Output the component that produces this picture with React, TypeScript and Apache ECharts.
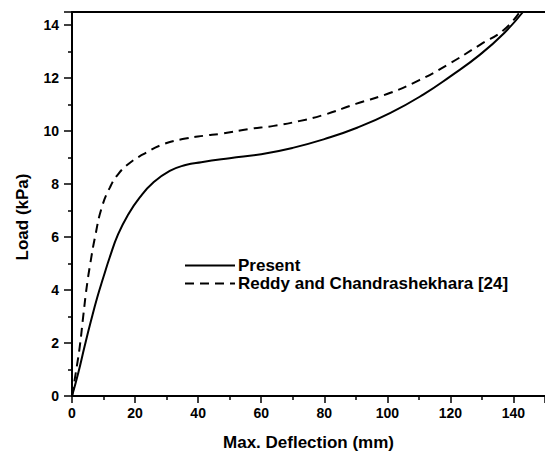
import React, { useEffect, useRef } from "react";
import * as echarts from "echarts";

const presentX = [0, 2, 4, 6, 8, 10, 12, 14.6, 17.8, 21.5, 25.7, 31, 36, 41, 50, 60, 70, 80, 90.4, 101, 111.5, 120, 129.5, 137, 143];
const presentY = [0, 0.88, 1.88, 2.83, 3.72, 4.5, 5.25, 6.1, 6.85, 7.5, 8.05, 8.5, 8.72, 8.83, 8.98, 9.13, 9.37, 9.7, 10.13, 10.69, 11.39, 12.07, 12.9, 13.7, 14.5];

const reddyX = [0, 1.5, 2.5, 3.6, 4.65, 5.8, 7.3, 9.4, 12, 14.6, 18.3, 22.5, 28.8, 36, 42, 47, 56, 64, 72, 80, 90, 101, 110, 119, 129.5, 137, 142];
const reddyY = [0, 1.1, 1.9, 3.05, 4.1, 5.0, 6.0, 7.1, 7.87, 8.37, 8.8, 9.12, 9.5, 9.72, 9.83, 9.9, 10.08, 10.2, 10.38, 10.62, 11.03, 11.45, 11.92, 12.5, 13.27, 13.83, 14.5];

const seriesNames = ["Present", "Reddy and Chandrashekhara [24]"];
const xTitle = "Max. Deflection (mm)";
const yTitle = "Load (kPa)";

const FONT = "'Liberation Sans', Arial, sans-serif";

export default function App() {
  const ref = useRef<HTMLDivElement>(null);
  useEffect(() => {
    if (!ref.current) return;
    const chart = echarts.init(ref.current, null, { renderer: "svg" });
    const zip = (xs: number[], ys: number[]) => xs.map((x, i) => [x, ys[i]]);
    chart.setOption({
      animation: false,
      backgroundColor: "#ffffff",
      textStyle: { fontFamily: FONT },
      grid: { left: 72, top: 12, right: 0, bottom: 60 },
      legend: {
        orient: "vertical",
        left: 179,
        top: 252,
        itemWidth: 50,
        itemHeight: 14,
        itemGap: 1,
        itemStyle: { opacity: 0 },
        data: seriesNames,
        textStyle: { fontSize: 17, fontWeight: "bold", color: "#000", fontFamily: FONT, padding: [0, 0, 0, -2] },
      },
      xAxis: [
        {
          type: "value",
          min: 0,
          max: 150,
          interval: 20,
          name: xTitle,
          nameLocation: "middle",
          nameGap: 38,
          nameTextStyle: { fontSize: 17, fontWeight: "bold", color: "#000", fontFamily: FONT },
          axisLine: { show: true, onZero: false, lineStyle: { color: "#000", width: 2 } },
          axisTick: { show: true, inside: false, length: 7, lineStyle: { color: "#000", width: 1.5 } },
          minorTick: { show: true, splitNumber: 2, length: 4, lineStyle: { color: "#000", width: 1.5 } },
          axisLabel: { showMaxLabel: false, margin: 10, fontSize: 14, fontWeight: "bold", color: "#000", fontFamily: FONT },
          splitLine: { show: false },
        },
        {
          type: "value",
          position: "top",
          min: 0,
          max: 150,
          interval: 20,
          axisLine: { show: true, onZero: false, lineStyle: { color: "#000", width: 2 } },
          axisTick: { show: false },
          axisLabel: { show: false },
          splitLine: { show: false },
        },
      ],
      yAxis: {
        type: "value",
        min: 0,
        max: 14.5,
        interval: 2,
        axisLine: { show: true, onZero: false, lineStyle: { color: "#000", width: 2 } },
        axisTick: { show: true, inside: false, length: 8, lineStyle: { color: "#000", width: 1.5 } },
        minorTick: { show: true, splitNumber: 2, length: 4, lineStyle: { color: "#000", width: 1.5 } },
        axisLabel: { showMaxLabel: false, margin: 13, fontSize: 14, fontWeight: "bold", color: "#000", fontFamily: FONT },
        splitLine: { show: false },
      },
      graphic: [
        {
          type: "text",
          x: 22,
          y: 217,
          rotation: Math.PI / 2,
          style: {
            text: yTitle,
            fontSize: 17,
            fontWeight: "bold",
            fontFamily: FONT,
            fill: "#000",
            align: "center",
            verticalAlign: "middle",
          },
        },
      ],
      series: [
        {
          name: seriesNames[0],
          type: "line",
          data: zip(presentX, presentY),
          smooth: 0.5,
          symbol: "none",
          lineStyle: { color: "#000", width: 2, type: "solid" },
          itemStyle: { color: "#000" },
        },
        {
          name: seriesNames[1],
          type: "line",
          data: zip(reddyX, reddyY),
          smooth: 0.5,
          symbol: "none",
          lineStyle: { color: "#000", width: 2, type: [9, 6] },
          itemStyle: { color: "#000" },
        },
      ],
    });
    return () => chart.dispose();
  }, []);
  return <div ref={ref} style={{ width: 545, height: 456, position: "absolute", left: 0, top: 0 }} />;
}
